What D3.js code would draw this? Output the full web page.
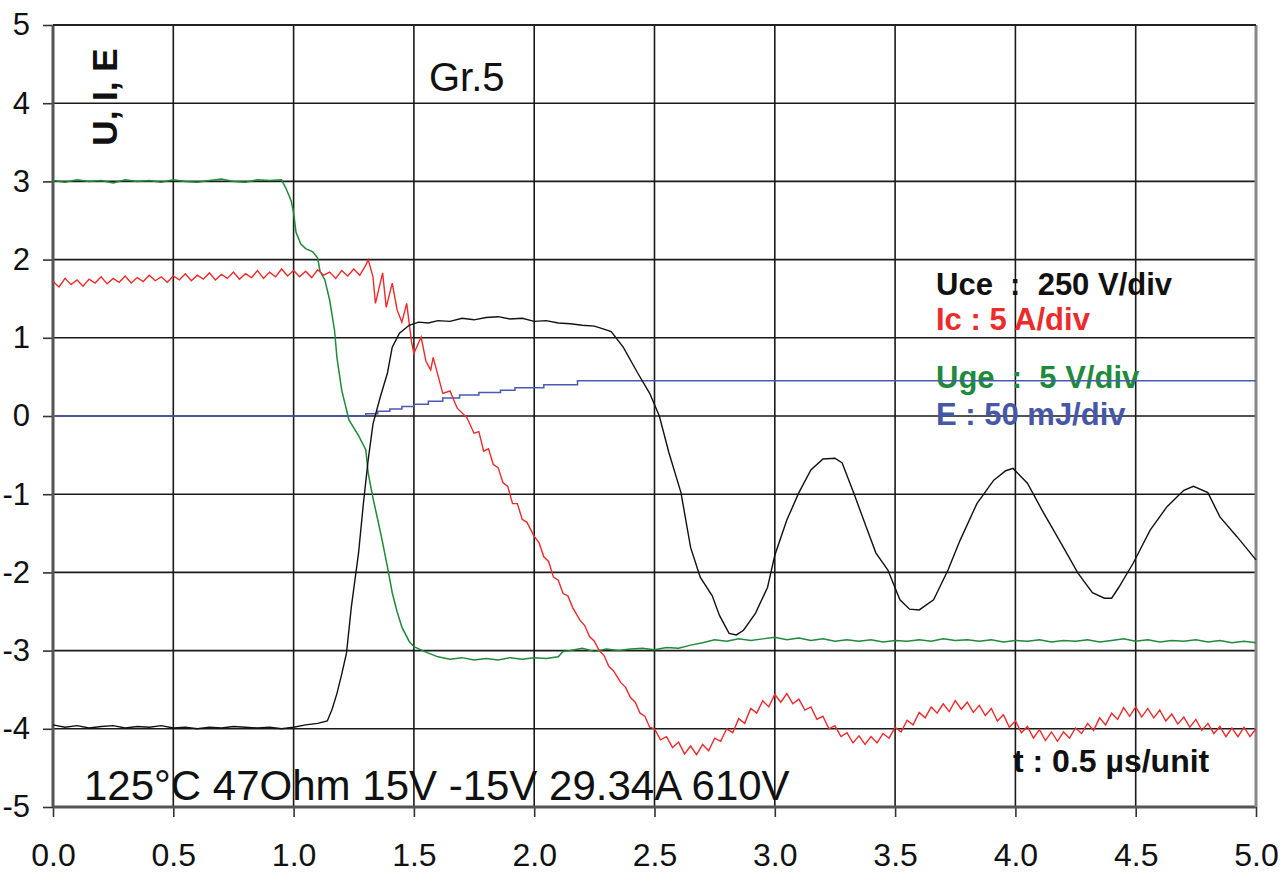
<!DOCTYPE html>
<html>
<head>
<meta charset="utf-8">
<script src="https://cdn.jsdelivr.net/npm/d3@7"></script>
<style>
  body { margin: 0; background: #fff; }
  svg { display: block; font-family: "Liberation Sans", Arial, sans-serif; }
</style>
</head>
<body>
<svg id="chart" width="1280" height="882"></svg>
<script>
// tick labels
var xTicks = [0, 0.5, 1, 1.5, 2, 2.5, 3, 3.5, 4, 4.5, 5];
var yTicks = [-5, -4, -3, -2, -1, 0, 1, 2, 3, 4, 5];

// Uge (green), [t, value]
var uge = [
  [0,3.01],[0.05,2.99],[0.1,3.02],[0.15,3.0],[0.2,3.01],[0.25,2.98],[0.3,3.02],[0.35,3.0],
  [0.4,3.01],[0.45,2.99],[0.5,3.02],[0.55,3.0],[0.6,2.99],[0.65,3.01],[0.7,3.03],[0.75,3.0],
  [0.8,2.99],[0.85,3.02],[0.9,3.01],[0.95,3.02],[0.97,2.9],[0.99,2.75],[1.0,2.6],[1.01,2.35],
  [1.03,2.2],[1.05,2.14],[1.08,2.1],[1.1,2.02],[1.11,1.85],[1.13,1.74],[1.15,1.48],[1.17,1.1],
  [1.18,0.75],[1.2,0.33],[1.23,-0.05],[1.27,-0.25],[1.3,-0.43],[1.31,-0.73],[1.33,-1.05],
  [1.35,-1.33],[1.37,-1.62],[1.39,-1.93],[1.41,-2.26],[1.43,-2.5],[1.45,-2.7],[1.48,-2.88],
  [1.5,-2.95],[1.55,-3.02],[1.6,-3.08],[1.65,-3.11],[1.7,-3.09],[1.75,-3.12],[1.8,-3.1],
  [1.85,-3.12],[1.9,-3.09],[1.95,-3.11],[2.0,-3.09],[2.05,-3.1],[2.1,-3.08],[2.12,-3.01],
  [2.15,-3.0],[2.2,-2.97],[2.25,-3.01],[2.3,-2.98],[2.35,-3.0],[2.4,-2.98],[2.45,-2.97],
  [2.5,-2.99],[2.55,-2.96],[2.6,-2.97],[2.65,-2.93],[2.7,-2.9],[2.75,-2.86],[2.8,-2.88],
  [2.85,-2.85],[2.9,-2.87],[2.95,-2.85],[3.0,-2.83],[3.05,-2.86],[3.1,-2.84],[3.15,-2.87],
  [3.2,-2.85],[3.25,-2.88],[3.3,-2.86],[3.35,-2.88],[3.4,-2.86],[3.45,-2.89],[3.5,-2.87],
  [3.55,-2.88],[3.6,-2.86],[3.65,-2.88],[3.7,-2.85],[3.75,-2.87],[3.8,-2.86],[3.85,-2.88],
  [3.9,-2.86],[3.95,-2.89],[4.0,-2.87],[4.05,-2.88],[4.1,-2.86],[4.15,-2.89],[4.2,-2.87],
  [4.25,-2.88],[4.3,-2.86],[4.35,-2.89],[4.4,-2.87],[4.45,-2.85],[4.5,-2.88],[4.55,-2.86],
  [4.6,-2.89],[4.65,-2.87],[4.7,-2.88],[4.75,-2.86],[4.8,-2.89],[4.85,-2.87],[4.9,-2.9],
  [4.95,-2.88],[5.0,-2.9]
];

// Ic (red)
var ic = [
  [0,1.72],[0.025,1.65],[0.05,1.76],[0.075,1.68],[0.1,1.74],[0.125,1.66],[0.15,1.75],[0.175,1.7],
  [0.2,1.78],[0.225,1.69],[0.25,1.76],[0.275,1.71],[0.3,1.79],[0.325,1.7],[0.35,1.77],[0.375,1.72],
  [0.4,1.8],[0.425,1.73],[0.45,1.78],[0.475,1.71],[0.5,1.79],[0.525,1.74],[0.55,1.82],[0.575,1.73],
  [0.6,1.8],[0.625,1.75],[0.65,1.83],[0.675,1.74],[0.7,1.81],[0.725,1.76],[0.75,1.84],[0.775,1.75],
  [0.8,1.82],[0.825,1.77],[0.85,1.86],[0.875,1.76],[0.9,1.84],[0.925,1.78],[0.95,1.88],[0.975,1.79],
  [1.0,1.86],[1.025,1.78],[1.05,1.85],[1.075,1.77],[1.1,1.87],[1.125,1.8],[1.15,1.84],[1.175,1.76],
  [1.2,1.86],[1.225,1.79],[1.25,1.88],[1.275,1.8],[1.3,1.93],[1.31,2.0],[1.33,1.78],[1.34,1.44],
  [1.36,1.7],[1.37,1.83],[1.385,1.39],[1.41,1.7],[1.43,1.36],[1.45,1.2],[1.47,1.44],[1.49,0.95],
  [1.5,0.8],[1.53,1.01],[1.55,0.7],[1.57,0.59],[1.58,0.75],[1.62,0.29],[1.65,0.32],[1.68,0.1],
  [1.72,-0.02],[1.75,-0.22],[1.77,-0.2],[1.79,-0.45],[1.81,-0.42],[1.83,-0.62],[1.85,-0.66],
  [1.87,-0.85],[1.89,-0.9],[1.91,-1.12],[1.93,-1.12],[1.95,-1.32],[1.97,-1.36],[2.0,-1.54],
  [2.02,-1.62],[2.04,-1.8],[2.06,-1.86],[2.08,-2.06],[2.1,-2.1],[2.12,-2.27],[2.14,-2.3],
  [2.16,-2.45],[2.19,-2.61],[2.21,-2.68],[2.23,-2.82],[2.25,-2.88],[2.27,-3.0],[2.29,-3.06],
  [2.31,-3.2],[2.33,-3.26],[2.36,-3.41],[2.38,-3.47],[2.4,-3.6],[2.42,-3.66],[2.44,-3.8],
  [2.46,-3.84],[2.48,-3.98],
  [2.5,-4.0],[2.525,-4.14],[2.55,-4.1],[2.575,-4.24],[2.6,-4.17],[2.625,-4.32],[2.65,-4.22],
  [2.675,-4.33],[2.7,-4.2],[2.725,-4.28],[2.75,-4.12],[2.775,-4.16],[2.8,-4.0],[2.825,-4.05],
  [2.85,-3.87],[2.875,-3.93],[2.9,-3.74],[2.925,-3.8],[2.95,-3.64],[2.975,-3.72],[3.0,-3.56],
  [3.025,-3.66],[3.05,-3.55],[3.075,-3.68],[3.1,-3.62],[3.125,-3.76],[3.15,-3.72],[3.175,-3.88],
  [3.2,-3.84],[3.225,-4.0],[3.25,-3.96],[3.275,-4.1],[3.3,-4.05],[3.325,-4.18],[3.35,-4.09],
  [3.375,-4.2],[3.4,-4.1],[3.425,-4.18],[3.45,-4.06],[3.475,-4.12],[3.5,-3.98],[3.525,-4.04],
  [3.55,-3.89],[3.575,-3.95],[3.6,-3.79],[3.625,-3.86],[3.65,-3.72],[3.675,-3.8],[3.7,-3.68],
  [3.725,-3.78],[3.75,-3.64],[3.775,-3.75],[3.8,-3.66],[3.825,-3.79],[3.85,-3.7],[3.875,-3.83],
  [3.9,-3.74],[3.925,-3.9],[3.95,-3.82],[3.975,-3.98],[4.0,-3.9],[4.025,-4.05],[4.05,-3.97],
  [4.075,-4.12],[4.1,-4.01],[4.125,-4.15],[4.15,-4.04],[4.175,-4.16],[4.2,-4.04],[4.225,-4.12],
  [4.25,-3.99],[4.275,-4.06],[4.3,-3.93],[4.325,-4.02],[4.35,-3.86],[4.375,-3.95],[4.4,-3.8],
  [4.425,-3.88],[4.45,-3.73],[4.475,-3.84],[4.5,-3.72],[4.525,-3.85],[4.55,-3.74],[4.575,-3.86],
  [4.6,-3.76],[4.625,-3.9],[4.65,-3.81],[4.675,-3.94],[4.7,-3.85],[4.725,-3.98],[4.75,-3.88],
  [4.775,-4.02],[4.8,-3.93],[4.825,-4.06],[4.85,-3.97],[4.875,-4.1],[4.9,-3.99],[4.925,-4.1],
  [4.95,-3.98],[4.975,-4.1],[5.0,-4.0]
];

// Uce (black)
var uce = [
  [0,-3.95],[0.05,-3.98],[0.1,-3.96],[0.15,-3.99],[0.2,-3.97],[0.25,-3.96],[0.3,-3.99],[0.35,-3.97],
  [0.4,-3.98],[0.45,-3.96],[0.5,-3.99],[0.55,-3.98],[0.6,-4.0],[0.65,-3.98],[0.7,-3.99],[0.75,-3.97],
  [0.8,-3.98],[0.85,-3.99],[0.9,-3.98],[0.95,-4.0],[1.0,-3.98],[1.05,-3.95],[1.1,-3.93],[1.14,-3.9],
  [1.16,-3.75],[1.18,-3.55],[1.2,-3.3],[1.22,-3.03],[1.24,-2.44],[1.27,-1.75],[1.29,-1.12],
  [1.31,-0.56],[1.33,-0.1],[1.36,0.24],[1.39,0.55],[1.41,0.88],[1.44,1.06],[1.48,1.16],
  [1.52,1.2],[1.56,1.19],[1.6,1.22],[1.65,1.21],[1.7,1.25],[1.75,1.23],[1.8,1.26],[1.85,1.27],
  [1.9,1.24],[1.95,1.25],[2.0,1.21],[2.05,1.22],[2.1,1.19],[2.15,1.18],[2.2,1.16],[2.25,1.15],
  [2.28,1.12],[2.32,1.08],[2.37,0.88],[2.43,0.55],[2.48,0.29],[2.52,0.0],[2.56,-0.47],
  [2.61,-0.98],[2.65,-1.68],[2.69,-2.06],[2.74,-2.3],[2.77,-2.55],[2.81,-2.78],[2.84,-2.8],
  [2.87,-2.74],[2.92,-2.52],[2.97,-2.19],[3.0,-1.78],[3.05,-1.33],[3.1,-0.98],[3.15,-0.69],
  [3.2,-0.55],[3.25,-0.54],[3.28,-0.6],[3.33,-1.0],[3.38,-1.42],[3.42,-1.75],[3.47,-1.97],
  [3.52,-2.35],[3.56,-2.47],[3.6,-2.48],[3.66,-2.35],[3.72,-1.97],[3.77,-1.59],[3.84,-1.12],
  [3.91,-0.82],[3.96,-0.7],[3.99,-0.67],[4.05,-0.86],[4.11,-1.2],[4.19,-1.63],[4.26,-2.01],
  [4.32,-2.26],[4.37,-2.33],[4.4,-2.33],[4.43,-2.19],[4.49,-1.88],[4.56,-1.46],[4.63,-1.16],
  [4.7,-0.95],[4.74,-0.9],[4.8,-0.98],[4.85,-1.29],[4.92,-1.54],[5.0,-1.84]
];

// E (blue), stepped
var energy = [
  [0,0],[1.3,0.03],[1.35,0.06],[1.4,0.09],[1.45,0.12],[1.5,0.15],[1.56,0.19],[1.62,0.23],
  [1.69,0.27],[1.77,0.3],[1.86,0.33],[1.92,0.36],[2.04,0.4],[2.18,0.45],[5,0.45]
];

var svg = d3.select("#chart");
var x = d3.scaleLinear().domain([0, 5]).range([53, 1256]);
var y = d3.scaleLinear().domain([-5, 5]).range([807, 25]);

// grid
svg.append("g").selectAll("line").data(xTicks).enter().append("line")
    .attr("x1", d => x(d)).attr("x2", d => x(d))
    .attr("y1", y(5)).attr("y2", y(-5))
    .attr("stroke", "#1a1a1a").attr("stroke-width", 1.6);
svg.append("g").selectAll("line").data(yTicks).enter().append("line")
    .attr("x1", x(0)).attr("x2", x(5))
    .attr("y1", d => y(d)).attr("y2", d => y(d))
    .attr("stroke", "#1a1a1a").attr("stroke-width", 1.6);

// axes
var yAxis = svg.append("g")
    .attr("transform", "translate(" + x(0) + ",0)")
    .call(d3.axisLeft(y).tickValues(yTicks).tickSize(10).tickPadding(13).tickFormat(d => String(d)));
var xAxis = svg.append("g")
    .attr("transform", "translate(0," + y(-5) + ")")
    .call(d3.axisBottom(x).tickValues(xTicks).tickSize(10).tickPadding(26).tickFormat(d3.format(".1f")));

[yAxis, xAxis].forEach(function(a){
  a.select(".domain").remove();
  a.selectAll(".tick line").attr("stroke", "#333").attr("stroke-width", 1.6);
  a.selectAll("text").attr("fill", "#111")
    .style("font-family", "'Liberation Sans', Arial, sans-serif");
});
yAxis.selectAll("text").style("font-size", "31px");
xAxis.selectAll("text").style("font-size", "32px");

// frame
svg.append("line").attr("x1", x(0)).attr("x2", x(0)).attr("y1", y(5)).attr("y2", y(-5))
    .attr("stroke", "#555").attr("stroke-width", 3);
svg.append("line").attr("x1", x(0)).attr("x2", x(5)).attr("y1", y(-5)).attr("y2", y(-5))
    .attr("stroke", "#555").attr("stroke-width", 3);
svg.append("line").attr("x1", x(5)).attr("x2", x(5)).attr("y1", y(5)).attr("y2", y(-5))
    .attr("stroke", "#888").attr("stroke-width", 3);
svg.append("line").attr("x1", x(0)).attr("x2", x(5)).attr("y1", y(5)).attr("y2", y(5))
    .attr("stroke", "#222").attr("stroke-width", 2);

// text
svg.append("text")
    .attr("transform", "translate(117,97) rotate(-90)")
    .attr("text-anchor", "middle")
    .style("font-size", "35px").style("font-weight", "bold")
    .attr("fill", "#111")
    .text("U, I, E");

svg.append("text").attr("x", 429).attr("y", 91)
    .style("font-size", "40px").attr("fill", "#111")
    .text("Gr.5");

svg.append("text").attr("x", 84).attr("y", 800)
    .style("font-size", "42px").attr("fill", "#111")
    .text("125°C 47Ohm 15V -15V 29.34A 610V");

var legend = [
  { text: "Uce  :  250 V/div", color: "#111111", y: 295 },
  { text: "Ic : 5 A/div", color: "#ee2a2a", y: 330 },
  { text: "Uge  :  5 V/div", color: "#1e8a3c", y: 388 },
  { text: "E : 50 mJ/div", color: "#4757a8", y: 425 }
];
svg.append("g").selectAll("text").data(legend).enter().append("text")
    .attr("x", 936).attr("y", d => d.y)
    .attr("fill", d => d.color)
    .style("font-size", "31px").style("font-weight", "bold")
    .style("white-space", "pre")
    .text(d => d.text);

svg.append("text").attr("x", 1013).attr("y", 772)
    .style("font-size", "32px").style("font-weight", "bold").attr("fill", "#111")
    .text("t : 0.5 µs/unit");

// curves
var line = d3.line().x(d => x(d[0])).y(d => y(d[1]));
var stepLine = d3.line().x(d => x(d[0])).y(d => y(d[1])).curve(d3.curveStepAfter);

svg.append("path").datum(energy).attr("d", stepLine)
    .attr("fill", "none").attr("stroke", "#4a5ab0").attr("stroke-width", 1.5);
svg.append("path").datum(uge).attr("d", line)
    .attr("fill", "none").attr("stroke", "#1f8a3a").attr("stroke-width", 1.5);
svg.append("path").datum(ic).attr("d", line)
    .attr("fill", "none").attr("stroke", "#ee2a2a").attr("stroke-width", 1.4);
svg.append("path").datum(uce).attr("d", line)
    .attr("fill", "none").attr("stroke", "#111").attr("stroke-width", 1.4);
</script>
</body>
</html>
